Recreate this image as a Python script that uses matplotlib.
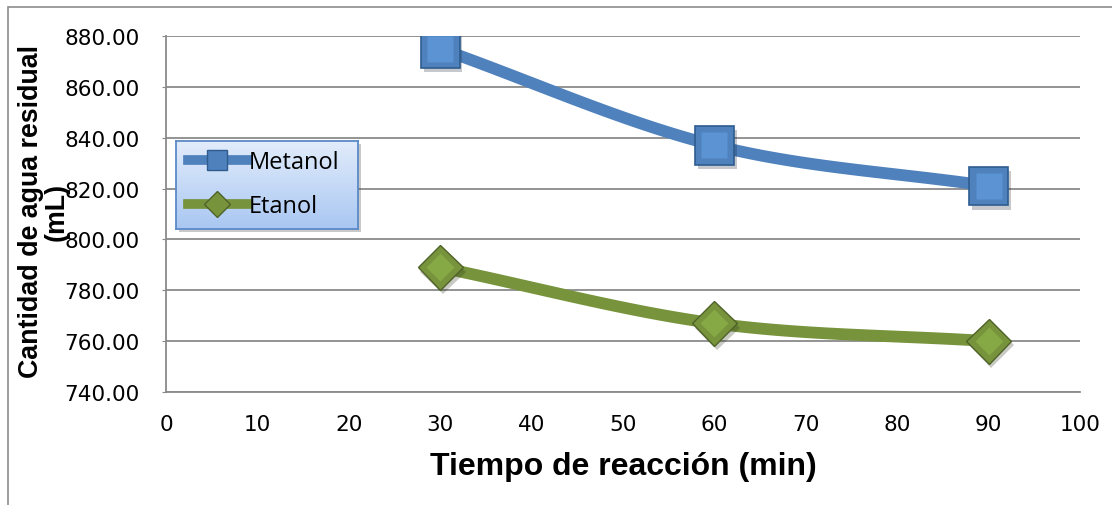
import numpy as np
import matplotlib
matplotlib.use("Agg")
import matplotlib.pyplot as plt
from matplotlib.patches import Rectangle
import matplotlib.patheffects as pe

# Reaction time (min) and residual water (mL)
tiempo = [30, 60, 90]
metanol = [875.0, 837.0, 821.0]
etanol = [789.0, 767.0, 760.0]
x_ticks = [0, 10, 20, 30, 40, 50, 60, 70, 80, 90, 100]
y_ticks = [740, 760, 780, 800, 820, 840, 860, 880]


def smooth(xs, ys, n=60):
    """Catmull-Rom curve through the given points (like a smoothed line)."""
    p = np.column_stack([xs, ys]).astype(float)
    ext = np.vstack([2 * p[0] - p[1], p, 2 * p[-1] - p[-2]])
    out = []
    for i in range(1, len(ext) - 2):
        p0, p1, p2, p3 = ext[i - 1], ext[i], ext[i + 1], ext[i + 2]
        t = np.linspace(0, 1, n)[:, None]
        seg = 0.5 * ((2 * p1) + (-p0 + p2) * t + (2 * p0 - 5 * p1 + 4 * p2 - p3) * t ** 2
                     + (-p0 + 3 * p1 - 3 * p2 + p3) * t ** 3)
        out.append(seg)
    c = np.vstack(out)
    return c[:, 0], c[:, 1]


W, H = 1112, 506
fig = plt.figure(figsize=(W / 100, H / 100), dpi=100)
fig.patches.append(Rectangle((8 / W, -0.1), 1.2, (H - 8) / H + 0.1,
                             transform=fig.transFigure, fill=False,
                             edgecolor="#8c8c8c", linewidth=1.2))

ax = fig.add_axes([166 / W, 1 - 393 / H, (1080 - 166) / W, (393 - 37) / H])
ax.set_xlim(0, 100)
ax.set_ylim(740, 880)
ax.set_xticks(x_ticks)
ax.set_yticks(y_ticks)
ax.set_yticklabels([f"{v:.2f}" for v in y_ticks])
ax.grid(axis="y", color="#8a8a8a", linewidth=1.3)
ax.set_axisbelow(True)
for side in ("top", "right"):
    ax.spines[side].set_visible(False)
for side in ("left", "bottom"):
    ax.spines[side].set_color("#8a8a8a")
    ax.spines[side].set_linewidth(1.3)
ax.tick_params(axis="y", length=3, color="#8a8a8a", labelsize=15.5, pad=16)
ax.tick_params(axis="x", length=0, labelsize=15.5, pad=16)

blue, blue_dark = "#4F81BD", "#2E5C8F"
green, green_dark = "#77933C", "#4F6228"
shadow = [pe.SimplePatchShadow(offset=(2, -3), alpha=0.25), pe.Normal()]

xm, ym = smooth(tiempo, metanol)
xe, ye = smooth(tiempo, etanol)
ax.plot(xm, ym, color=blue, linewidth=8.5, solid_capstyle="butt", zorder=3)
ax.plot(xe, ye, color=green, linewidth=8.5, solid_capstyle="butt", zorder=3)

ax.plot(tiempo, metanol, linestyle="none", marker="s", markersize=28,
        markerfacecolor=blue, markeredgecolor=blue_dark, markeredgewidth=1.2,
        zorder=4, path_effects=shadow)
ax.plot(tiempo, metanol, linestyle="none", marker="s", markersize=19,
        markerfacecolor="#5B93D3", markeredgecolor="none", zorder=5)
ax.plot(tiempo, etanol, linestyle="none", marker="D", markersize=23,
        markerfacecolor=green, markeredgecolor=green_dark, markeredgewidth=1.0,
        zorder=4, path_effects=shadow)
ax.plot(tiempo, etanol, linestyle="none", marker="D", markersize=14,
        markerfacecolor="#86A845", markeredgecolor="none", zorder=5)

# Legend: gradient panel behind a transparent figure legend
lx0, lx1, ly0, ly1 = 176, 358, 142, 230
bg = fig.add_axes([lx0 / W, 1 - ly1 / H, (lx1 - lx0) / W, (ly1 - ly0) / H], zorder=2)
grad = np.linspace(0, 1, 100)[:, None]
bg.imshow(grad, aspect="auto", extent=(0, 1, 0, 1), origin="upper",
          cmap=matplotlib.colors.LinearSegmentedColormap.from_list(
              "lg", ["#E2ECFB", "#A9C7F2"]))
bg.set_xticks([])
bg.set_yticks([])
for s in bg.spines.values():
    s.set_color("#5B8AC7")
    s.set_linewidth(1.3)
bg.patch.set_path_effects([pe.SimplePatchShadow(offset=(2, -2), alpha=0.3), pe.Normal()])

h_m, = ax.plot([], [], color=blue, linewidth=7, marker="s", markersize=14,
               markerfacecolor=blue, markeredgecolor=blue_dark)
h_e, = ax.plot([], [], color=green, linewidth=7, marker="D", markersize=13,
               markerfacecolor=green, markeredgecolor=green_dark)
leg = fig.legend([h_m, h_e], ["Metanol", "Etanol"], loc="upper left",
                 bbox_to_anchor=(lx0 / W, 1 - (ly0 - 3) / H), frameon=False,
                 handlelength=2.5, handletextpad=0.1, borderpad=0.5,
                 borderaxespad=0.0, labelspacing=0.85,
                 prop={"family": "Open Sans", "size": 17})
leg.set_zorder(6)

ax.set_xlabel("Tiempo de reacción (min)", fontsize=23, fontweight="bold",
              family="Liberation Sans", labelpad=12)
fig.text(44 / W, 1 - 212 / H, "Cantidad de agua residual\n(mL)", rotation=90,
         ha="center", va="center", fontsize=19.3, fontweight="bold",
         family="Liberation Sans", linespacing=0.95, zorder=7)

fig.savefig("out.png", dpi=100)
